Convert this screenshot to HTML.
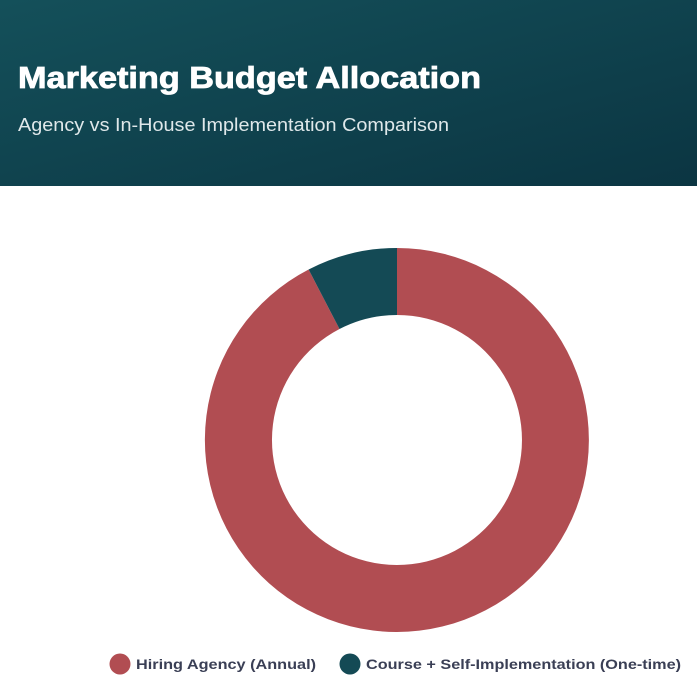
<!DOCTYPE html>
<html><head><meta charset="utf-8"><style>
html,body{margin:0;padding:0;background:#fff;width:697px;height:697px;overflow:hidden}
</style></head><body>
<svg width="697" height="697" xmlns="http://www.w3.org/2000/svg">
<defs><linearGradient id="g" x1="0" y1="0" x2="1" y2="1">
<stop offset="0" stop-color="#14505a"/><stop offset="1" stop-color="#0b3542"/></linearGradient></defs>
<rect x="0" y="0" width="697" height="186" fill="url(#g)"/>
<text x="18" y="88" font-family="Liberation Sans, sans-serif" font-weight="bold" font-size="31" fill="#fff" stroke="#fff" stroke-width="0.8" textLength="463" lengthAdjust="spacingAndGlyphs">Marketing Budget Allocation</text>
<text x="18" y="131" font-family="Liberation Sans, sans-serif" font-size="18" fill="#dfe8ea" textLength="431" lengthAdjust="spacingAndGlyphs">Agency vs In-House Implementation Comparison</text>
<path d="M397 248 A192 192 0 1 1 308.6 269.5 L339.5 329 A125 125 0 1 0 397 315 Z" fill="#b14d52"/>
<path d="M308.6 269.5 A192 192 0 0 1 397 248 L397 315 A125 125 0 0 0 339.5 329 Z" fill="#144a55"/>
<circle cx="120" cy="664" r="10.5" fill="#b14d52"/>
<text x="136" y="669" font-family="Liberation Sans, sans-serif" font-weight="bold" font-size="14" fill="#3a3f55" textLength="180" lengthAdjust="spacingAndGlyphs">Hiring Agency (Annual)</text>
<circle cx="350" cy="664" r="10.5" fill="#144a55"/>
<text x="366" y="669" font-family="Liberation Sans, sans-serif" font-weight="bold" font-size="14" fill="#3a3f55" textLength="315" lengthAdjust="spacingAndGlyphs">Course + Self-Implementation (One-time)</text>
</svg>
</body></html>
